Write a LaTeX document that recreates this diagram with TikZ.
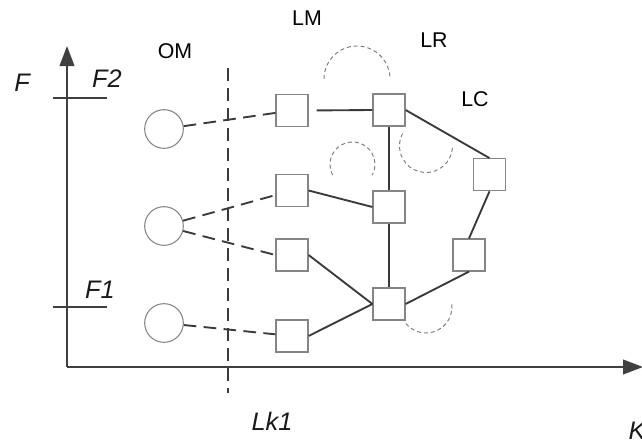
\documentclass[tikz,border=0pt]{standalone}
\usepackage{fontspec}
\setmainfont{Liberation Sans}
\usetikzlibrary{arrows.meta}
\definecolor{axiscol}{HTML}{404040}
\definecolor{linecol}{HTML}{3A3A3A}
\definecolor{boxcol}{HTML}{858585}
\definecolor{arccol}{HTML}{7A7A7A}
\tikzset{
  axis/.style={line width=1.4pt, draw=axiscol},
  sq/.style={draw=boxcol, line width=0.9pt, minimum size=24pt, inner sep=0pt, fill=white},
  circ/.style={draw=boxcol, circle, line width=0.8pt, minimum size=29pt, inner sep=0pt},
  conn/.style={line width=1.4pt, draw=linecol},
  dconn/.style={line width=1.4pt, draw=linecol, dash pattern=on 9.5pt off 5.5pt},
  darc/.style={line width=0.7pt, draw=arccol, dash pattern=on 3pt off 2.2pt},
  lbl/.style={font=\fontsize{16}{18}\selectfont, text=black, inner sep=0pt},
  ilbl/.style={font=\fontsize{19}{22}\selectfont\itshape, text=black!90, inner sep=0pt},
}
\begin{document}
\begin{tikzpicture}[x=0.75pt, y=-0.75pt]
\useasboundingbox (0,0) rectangle (642,443);
% axes
\coordinate (origin) at (67,367);
\coordinate (ytip) at (67,46);
\coordinate (xtip) at (643,367);
\draw[axis, -{Triangle[length=15pt, width=11pt]}] (origin) -- (ytip);
\draw[axis, -{Triangle[length=15pt, width=11pt]}] (origin) -- (xtip);
% ticks
\coordinate (f2a) at (53,97.7); \coordinate (f2b) at (107,97.7);
\coordinate (f1a) at (53,306.7); \coordinate (f1b) at (107,306.7);
\draw[axis] (f2a) -- (f2b);
\draw[axis] (f1a) -- (f1b);
% dashed boundary
\coordinate (lka) at (228,68); \coordinate (lkb) at (228,393);
\draw[dconn] (lka) -- (lkb);
% labels
\node[ilbl] (lF) at (22,83) {F};
\node[ilbl] (lF2) at (107,79) {F2};
\node[ilbl] (lF1) at (100,289.5) {F1};
\node[ilbl] (lLk) at (272,421) {Lk1};
\node[ilbl] (lK) at (637,431) {K};
\node[lbl] (lOM) at (175,51) {OM};
\node[lbl] (lLM) at (307,18) {LM};
\node[lbl] (lLR) at (434,40.5) {LR};
\node[lbl] (lLC) at (475,99.5) {LC};
% circles
\node[circ] (c1) at (164,129) {};
\node[circ] (c2) at (164,226) {};
\node[circ] (c3) at (164,323) {};
% squares
\node[sq] (m1) at (292,110.5) {};
\node[sq] (m2) at (292,190.5) {};
\node[sq] (m3) at (292,255) {};
\node[sq] (m4) at (292,336) {};
\node[sq] (r1) at (389,110) {};
\node[sq] (r2) at (389,207) {};
\node[sq] (r3) at (389,304) {};
\node[sq] (k1) at (489.5,174.7) {};
\node[sq] (k2) at (469,255) {};
% dashed connectors
\draw[dconn] (c1) -- (m1);
\draw[dconn] (c2) -- (m2);
\draw[dconn] (c2) -- (m3.west);
\draw[dconn] (c3) -- (m4);
% solid connectors
\draw[conn, shorten <=6pt] (m1.east) -- (r1.west);
\draw[conn] (r1.south) -- (r2.north);
\draw[conn] (r2.south) -- (r3.north);
\draw[conn] (r1.east) -- (k1.north);
\draw[conn] (k1.south) -- (k2.north);
\draw[conn] (k2.south) -- (r3.east);
\draw[conn] (m2.east) -- (r2.west);
\draw[conn] (m3.east) -- (r3.west);
\draw[conn] (m4.east) -- (r3.west);
% dashed arcs
\draw[darc] (357,79) ++(180:33) arc[start angle=180, end angle=360, radius=33];
\draw[darc] (352.5,164.5) ++(152:22.5) arc[start angle=152, end angle=388, radius=22.5];
\draw[darc] (426,146) ++(4:26.5) arc[start angle=4, end angle=210, radius=26.5];
\draw[darc] (426,307) ++(-6:26) arc[start angle=-6, end angle=147, radius=26];
\end{tikzpicture}
\end{document}
